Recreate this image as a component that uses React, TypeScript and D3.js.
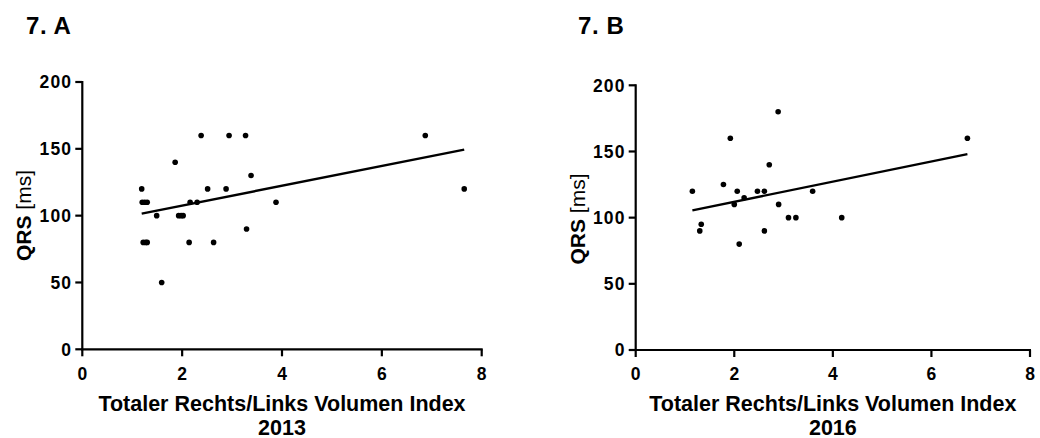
import React from "react";
import * as d3 from "d3";

// ---- Data ----
const xTicks = [0, 2, 4, 6, 8];
const yTicks = [0, 50, 100, 150, 200];

const xA = [1.19, 1.2, 1.25, 1.3, 1.22, 1.27, 1.3, 1.49, 1.59, 1.86, 1.93, 1.98, 2.02, 2.16, 2.3, 2.14, 2.38, 2.51, 2.63, 2.88, 2.94, 3.27, 3.29, 3.38, 3.88, 6.87, 7.65];
const yA = [120, 110, 110, 110, 80, 80, 80, 100, 50, 140, 100, 100, 100, 110, 110, 80, 160, 120, 80, 120, 160, 160, 90, 130, 110, 160, 120];

const xB = [1.15, 1.3, 1.33, 1.78, 1.92, 2.0, 2.06, 2.1, 2.2, 2.47, 2.61, 2.61, 2.71, 2.89, 2.9, 3.1, 3.25, 3.59, 4.18, 6.73];
const yB = [120, 90, 95, 125, 160, 110, 120, 80, 115, 120, 120, 90, 140, 180, 110, 100, 100, 120, 100, 160];

// fitted regression lines (intercept, slope)
const fitA = [92.7, 7.41];
const fitB = [96.8, 7.6];

const titles = ["7. A", "7. B"];
const yLabelBold = "QRS";
const yLabelUnit = "[ms]";
const xLabel = "Totaler Rechts/Links Volumen Index";
const years = ["2013", "2016"];

const FONT = "'Liberation Sans', Arial, Helvetica, sans-serif";

type PanelProps = {
  xs: number[];
  ys: number[];
  fit: number[];
  title: string;
  year: string;
  x0: number;
  x1: number;
  y0: number;
  y1: number;
  titleX: number;
  yLabelX: number;
  yLabelY: number;
};

function Panel(p: PanelProps) {
  const x = d3.scaleLinear().domain([0, 8]).range([p.x0, p.x1]);
  const y = d3.scaleLinear().domain([0, 200]).range([p.y0, p.y1]);
  const minX = d3.min(p.xs) as number;
  const maxX = d3.max(p.xs) as number;
  const line = d3
    .line<number>()
    .x((d) => x(d))
    .y((d) => y(p.fit[0] + p.fit[1] * d));
  const cx = (p.x0 + p.x1) / 2;
  return (
    <g>
      <text x={p.titleX} y={34} fontFamily={FONT} fontWeight="bold" fontSize={24} letterSpacing={0.6}>
        {p.title}
      </text>
      {/* y axis */}
      <line x1={p.x0} x2={p.x0} y1={y(0) + 1} y2={y(200) - 1} stroke="#000" strokeWidth={2.2} />
      {yTicks.map((t) => (
        <g key={"y" + t}>
          <line x1={p.x0 - 7} x2={p.x0} y1={y(t)} y2={y(t)} stroke="#000" strokeWidth={2.2} />
          <text
            x={p.x0 - 10}
            y={y(t)}
            dy="0.36em"
            textAnchor="end"
            fontFamily={FONT}
            fontWeight="bold"
            fontSize={17.5}
            letterSpacing={1.2}
          >
            {t}
          </text>
        </g>
      ))}
      {/* x axis */}
      <line x1={p.x0 - 1} x2={p.x1 + 1} y1={p.y0} y2={p.y0} stroke="#000" strokeWidth={2.2} />
      {xTicks.map((t) => (
        <g key={"x" + t}>
          <line x1={x(t)} x2={x(t)} y1={p.y0} y2={p.y0 + 7} stroke="#000" strokeWidth={2.2} />
          <text
            x={x(t) + 0.6}
            y={379.5}
            textAnchor="middle"
            fontFamily={FONT}
            fontWeight="bold"
            fontSize={17.5}
            letterSpacing={1.2}
          >
            {t}
          </text>
        </g>
      ))}
      {/* labels */}
      <text
        transform={`translate(${p.yLabelX},${p.yLabelY}) rotate(-90)`}
        textAnchor="middle"
        fontFamily={FONT}
        fontSize={21}
      >
        <tspan fontWeight="bold">{yLabelBold}</tspan>
        <tspan> {yLabelUnit}</tspan>
      </text>
      <text x={cx} y={410.7} textAnchor="middle" fontFamily={FONT} fontWeight="bold" fontSize={21.5}>
        {xLabel}
      </text>
      <text x={cx} y={434.5} textAnchor="middle" fontFamily={FONT} fontWeight="bold" fontSize={21.5}>
        {p.year}
      </text>
      {/* regression line */}
      <path d={line([minX, maxX]) || ""} stroke="#000" strokeWidth={2.4} fill="none" />
      {/* points */}
      {p.xs.map((v, i) => (
        <circle key={i} cx={x(v)} cy={y(p.ys[i])} r={2.8} fill="#000" />
      ))}
    </g>
  );
}

export default function App() {
  return (
    <svg
      width={1040}
      height={438}
      style={{ position: "absolute", left: 0, top: 0, background: "#fff" }}
    >
      <rect width={1040} height={438} fill="#fff" />
      <Panel
        xs={xA}
        ys={yA}
        fit={fitA}
        title={titles[0]}
        year={years[0]}
        x0={82.3}
        x1={481.7}
        y0={349.3}
        y1={82}
        titleX={26}
        yLabelX={31}
        yLabelY={215.5}
      />
      <Panel
        xs={xB}
        ys={yB}
        fit={fitB}
        title={titles[1]}
        year={years[1]}
        x0={635.7}
        x1={1030}
        y0={350}
        y1={85.3}
        titleX={578}
        yLabelX={584.5}
        yLabelY={219}
      />
    </svg>
  );
}
